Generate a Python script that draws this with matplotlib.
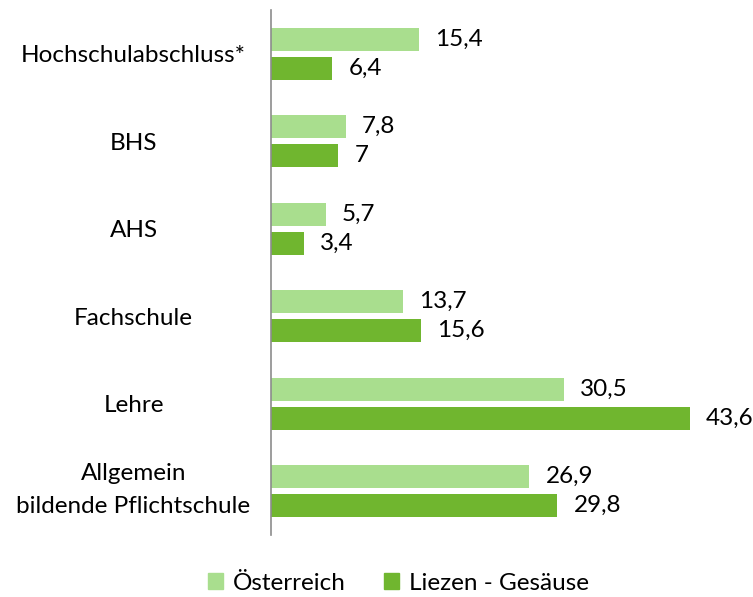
import matplotlib
matplotlib.use("Agg")
import matplotlib.pyplot as plt
import matplotlib.transforms as mtransforms
from matplotlib.patches import Patch

categories = ["Hochschulabschluss*", "BHS", "AHS", "Fachschule", "Lehre",
              "Allgemein\nbildende Pflichtschule"]
oesterreich = [15.4, 7.8, 5.7, 13.7, 30.5, 26.9]
liezen = [6.4, 7.0, 3.4, 15.6, 43.6, 29.8]
series_names = ["Österreich", "Liezen - Gesäuse"]

light = "#A9DE8E"
dark = "#70B62F"

plt.rcParams['font.family'] = ['Lato', 'DejaVu Sans']
FS = 17.5

fig = plt.figure(figsize=(7.53, 5.97), dpi=100)
W, H = 753, 597
ax = fig.add_axes([271 / W, 1 - 535 / H, 432 / W, 525 / H])

n = len(categories)
ys = list(range(n))
bh = 0.264
off = 0.166
ax.barh([y - off for y in ys], oesterreich, height=bh, color=light)
ax.barh([y + off for y in ys], liezen, height=bh, color=dark)

def fmt(v):
    s = f"{v:.1f}".replace(".", ",")
    if s.endswith(",0"):
        s = s[:-2]
    return s

for y, a, b in zip(ys, oesterreich, liezen):
    ax.text(a + 1.7, y - off, fmt(a), va="center", ha="left", fontsize=FS)
    ax.text(b + 1.7, y + off, fmt(b), va="center", ha="left", fontsize=FS)

ax.set_ylim(n - 0.5, -0.5)
ax.set_xlim(0, 45)
ax.set_yticks(ys)
ax.set_yticklabels(categories, fontsize=FS, ha="center", linespacing=1.7)
ax.tick_params(axis="y", length=0, pad=99)
ax.set_xticks([])
for s in ["top", "right", "bottom"]:
    ax.spines[s].set_visible(False)
ax.spines["left"].set_color("#8C8C8C")
ax.spines["left"].set_linewidth(1.2)

for lbl in ax.get_yticklabels():
    if "\n" in lbl.get_text():
        lbl.set_transform(lbl.get_transform() +
                          mtransforms.ScaledTranslation(0, 0.09, fig.dpi_scale_trans))

handles = [Patch(color=light), Patch(color=dark)]
fig.legend(handles, series_names, loc="center", bbox_to_anchor=(0.529, 1 - 583 / H),
           ncol=2, frameon=False, fontsize=FS, handlelength=0.6, handleheight=0.6,
           handletextpad=0.4, columnspacing=1.6)

fig.savefig("out.png", dpi=100)
